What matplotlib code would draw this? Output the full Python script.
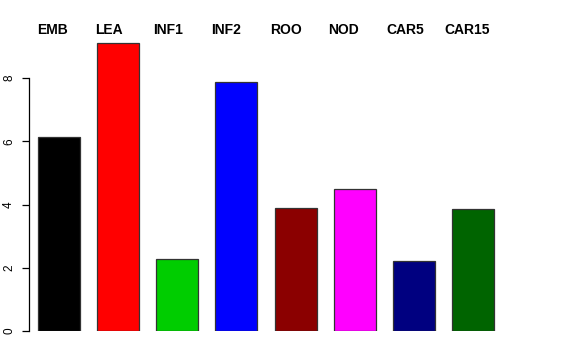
import matplotlib.pyplot as plt
import numpy as np

plt.rcParams['font.family'] = ['Liberation Sans', 'DejaVu Sans']

# tissue groups and their values
groups = ['EMB', 'LEA', 'INF1', 'INF2', 'ROO', 'NOD', 'CAR5', 'CAR15']
values = [6.14, 9.11, 2.27, 7.88, 3.89, 4.49, 2.22, 3.86]
colors = ['black', 'red', '#00CD00', 'blue', '#8B0000', 'magenta', '#000080', '#006400']

fig = plt.figure(figsize=(5.76, 3.6), dpi=100)
ax = fig.add_axes([29 / 576, 29 / 360, 518 / 576, 311 / 360])

x = np.arange(len(groups))
ax.bar(x, values, width=0.71, color=colors, edgecolor='#333333', linewidth=0.9)

ax.set_xlim(-0.508, 8.25)
ax.set_ylim(0, 9.834)

# group labels above the bars
for i, name in enumerate(groups):
    ax.text(i * 0.983 - 0.37, 9.52, name, ha='left', va='center',
            fontsize=10, fontweight='bold')

for side in ['top', 'right', 'bottom']:
    ax.spines[side].set_visible(False)
ax.spines['left'].set_bounds(0, 8)
ax.spines['left'].set_linewidth(0.9)
ax.set_xticks([])
ax.set_yticks([0, 2, 4, 6, 8])
ax.tick_params(axis='y', length=5, width=0.9, labelsize=8.5, pad=5)
for lab in ax.get_yticklabels():
    lab.set_rotation(90)
    lab.set_va('center')

fig.savefig('out.png', dpi=100)
